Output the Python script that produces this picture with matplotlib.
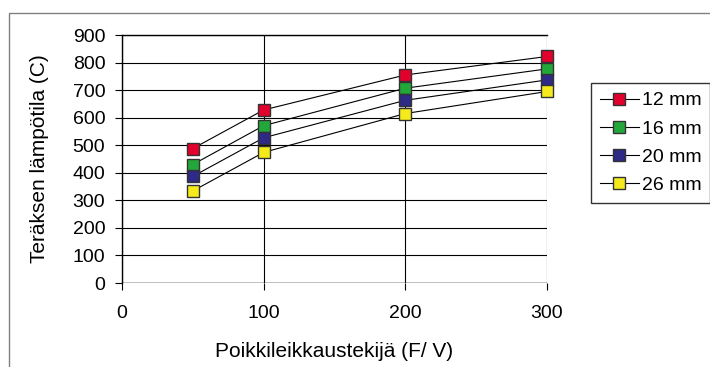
import matplotlib
matplotlib.use("Agg")
import matplotlib.pyplot as plt
from matplotlib.patches import Rectangle

plt.rcParams['font.family'] = ['Liberation Sans', 'DejaVu Sans']

# Section factor (F/V) and steel temperature for each thickness
x_values = [50, 100, 200, 300]
series_labels = ["12 mm", "16 mm", "20 mm", "26 mm"]
temp_12mm = [488, 628, 755, 822]
temp_16mm = [430, 571, 707, 777]
temp_20mm = [387, 527, 663, 737]
temp_26mm = [334, 474, 615, 695]
x_ticks = [0, 100, 200, 300]
y_ticks = [0, 100, 200, 300, 400, 500, 600, 700, 800, 900]

series = [temp_12mm, temp_16mm, temp_20mm, temp_26mm]
colors = ["#E2002C", "#22A83A", "#2E2A86", "#F4EA1C"]

W, H = 710, 367
fig = plt.figure(figsize=(W / 100, H / 100), dpi=100)
fig.patch.set_facecolor("white")

# outer chart frame (runs off the right/bottom edges)
fig.add_artist(Rectangle((9 / W, -0.1), 1.2, 1 - 13 / H + 0.1,
                         transform=fig.transFigure, fill=False,
                         edgecolor="#808080", linewidth=1.0))

left, right, top, bottom = 122, 547, 35, 283
ax = fig.add_axes([left / W, 1 - bottom / H, (right - left) / W, (bottom - top) / H])
ax.set_xlim(0, 300)
ax.set_ylim(0, 900)
ax.set_xticks(x_ticks)
ax.set_yticks(y_ticks)
ax.grid(True, color="black", linewidth=0.8)
ax.set_axisbelow(True)
for s in ["right", "bottom"]:
    ax.spines[s].set_visible(False)
for s in ["top", "left"]:
    ax.spines[s].set_linewidth(1.0)
ax.axhline(0, color="black", linewidth=1.0, zorder=1)
ax.tick_params(axis="both", direction="out", length=5, width=0.8,
               labelsize=14, colors="black")
ax.tick_params(axis="x", pad=11)
ax.tick_params(axis="y", pad=7)

handles = []
for vals, c, lab in zip(series, colors, series_labels):
    h, = ax.plot(x_values, vals, color="black", linewidth=0.8,
                 marker="s", markersize=9, markerfacecolor=c,
                 markeredgecolor="#333333", markeredgewidth=1.0,
                 label=lab, clip_on=False, zorder=3)
    handles.append(h)

ax.set_ylabel("Teräksen lämpötila (C)", fontsize=15, labelpad=17)
ax.set_xlabel("Poikkileikkaustekijä (F/ V)", fontsize=15, labelpad=14)

leg = fig.legend(handles=handles, loc="upper left",
                 bbox_to_anchor=(591 / W, 1 - 83 / H), fontsize=14,
                 frameon=True, fancybox=False, edgecolor="black",
                 handlelength=2.0, handletextpad=0.15, labelspacing=0.55,
                 borderpad=0.45, borderaxespad=0)
leg.get_frame().set_linewidth(1.0)

fig.savefig("out.png", dpi=100)
